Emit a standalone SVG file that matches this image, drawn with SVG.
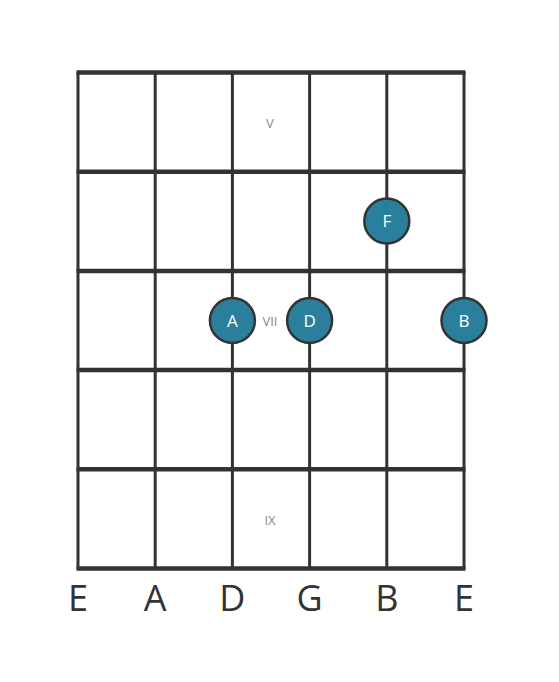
<svg xmlns="http://www.w3.org/2000/svg" width="559" height="682" viewBox="0 0 559 682">
<style>
.fret{stroke:#333;stroke-width:4.5}
.str{stroke:#333;stroke-width:3}
.note{fill:#2a7f9c;stroke:#333;stroke-width:2.5}
.nt{fill:#fff;font-family:"Open Sans",sans-serif;font-size:17px;text-anchor:middle}
.fl{fill:#888;font-family:"Open Sans",sans-serif;font-size:13px;text-anchor:middle}
.sl{fill:#333;font-family:"Open Sans",sans-serif;font-size:36px;text-anchor:middle}
</style>
<rect width="559" height="682" fill="#fff"/>
<g id="strings">
<line class="str" x1="78" y1="72" x2="78" y2="569"/>
<line class="str" x1="155.2" y1="72" x2="155.2" y2="569"/>
<line class="str" x1="232.4" y1="72" x2="232.4" y2="569"/>
<line class="str" x1="309.6" y1="72" x2="309.6" y2="569"/>
<line class="str" x1="386.8" y1="72" x2="386.8" y2="569"/>
<line class="str" x1="464" y1="72" x2="464" y2="569"/>
</g>
<g id="frets">
<line class="fret" x1="76.5" y1="72.5" x2="465.5" y2="72.5"/>
<line class="fret" x1="76.5" y1="171.7" x2="465.5" y2="171.7"/>
<line class="fret" x1="76.5" y1="270.9" x2="465.5" y2="270.9"/>
<line class="fret" x1="76.5" y1="370.1" x2="465.5" y2="370.1"/>
<line class="fret" x1="76.5" y1="469.3" x2="465.5" y2="469.3"/>
<line class="fret" x1="76.5" y1="568.5" x2="465.5" y2="568.5"/>
</g>
<g id="fret-labels">
<text class="fl" x="270" y="128">V</text>
<text class="fl" x="270" y="326">VII</text>
<text class="fl" x="270" y="525">IX</text>
</g>
<g id="note-F"><circle class="note" cx="386.8" cy="221" r="22.5"/><text class="nt" x="386.8" y="227">F</text></g>
<g id="note-A"><circle class="note" cx="232.4" cy="320.5" r="22.5"/><text class="nt" x="232.4" y="326.5">A</text></g>
<g id="note-D"><circle class="note" cx="309.6" cy="320.5" r="22.5"/><text class="nt" x="309.6" y="326.5">D</text></g>
<g id="note-B"><circle class="note" cx="464" cy="320.5" r="22.5"/><text class="nt" x="464" y="326.5">B</text></g>
<g id="string-labels">
<text class="sl" x="78" y="611">E</text>
<text class="sl" x="155.2" y="611">A</text>
<text class="sl" x="232.4" y="611">D</text>
<text class="sl" x="309.6" y="611">G</text>
<text class="sl" x="386.8" y="611">B</text>
<text class="sl" x="464" y="611">E</text>
</g>
</svg>
